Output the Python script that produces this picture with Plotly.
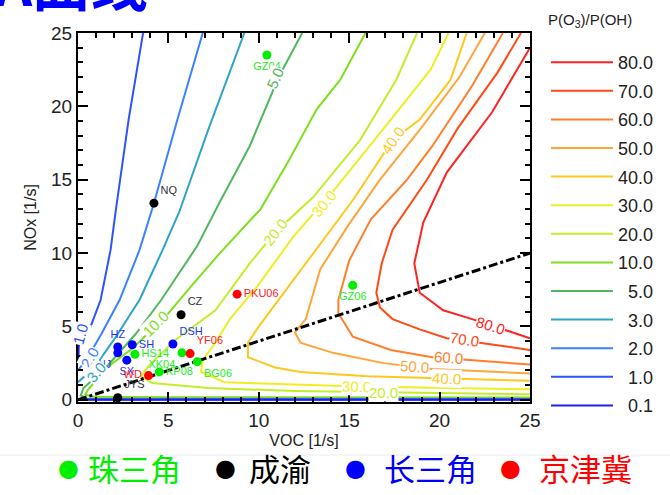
import plotly.graph_objects as go

# ---------------- data ----------------
levels = ["80.0", "70.0", "60.0", "50.0", "40.0", "30.0", "20.0", "10.0", "5.0", "3.0", "2.0", "1.0", "0.1"]
level_colors = ["#ff2222", "#ff4a14", "#ff7f2a", "#ffa53a", "#ffc81e", "#eeee22", "#c4ee2a",
                "#7ee01c", "#52b85e", "#2ea2c8", "#3a82ff", "#2f52ff", "#2020ee"]

c80_x = [25.0, 22.9, 20.4, 19.1, 18.6, 18.9, 20.2, 21.8, 25.0]
c80_y = [24.0, 19.6, 15.5, 12.1, 9.3, 7.3, 6.1, 5.5, 4.2]
c70_x = [24.5, 23.2, 21.0, 19.3, 17.4, 16.8, 16.5, 16.7, 17.4, 18.9, 20.4, 25.0]
c70_y = [25.0, 22.3, 18.5, 15.0, 11.6, 9.3, 7.3, 6.3, 5.5, 4.8, 4.2, 3.4]
c60_x = [23.5, 21.8, 19.6, 18.2, 16.2, 15.0, 14.4, 14.4, 15.2, 17.3, 19.6, 25.0]
c60_y = [25.0, 21.4, 17.3, 15.0, 12.3, 9.5, 6.8, 5.9, 4.3, 3.4, 2.9, 2.4]
c50_x = [22.5, 21.1, 18.9, 16.7, 14.9, 13.4, 12.6, 12.0, 12.3, 14.1, 16.9, 19.6, 25.0]
c50_y = [25.0, 22.0, 18.4, 15.0, 11.8, 8.9, 5.5, 4.6, 3.9, 3.2, 2.5, 2.1, 1.8]
c40_x = [21.5, 20.6, 18.9, 17.4, 15.2, 12.7, 11.1, 10.0, 9.4, 9.4, 10.9, 12.3, 16.0, 20.4, 25.0]
c40_y = [25.0, 21.8, 19.1, 17.7, 13.6, 9.5, 6.8, 5.0, 3.9, 2.9, 2.2, 1.9, 1.6, 1.43, 1.3]
c30_x = [20.5, 19.5, 17.3, 14.3, 11.9, 9.9, 8.4, 7.6, 6.9, 6.8, 8.1, 12.6, 15.5, 25.0]
c30_y = [25.0, 22.5, 19.1, 14.5, 11.1, 7.7, 5.5, 3.9, 2.7, 1.9, 1.2, 1.0, 0.9, 0.72]
c20_x = [18.75, 17.6, 15.6, 13.0, 10.9, 9.5, 7.6, 5.4, 3.9, 3.5, 4.1, 7.2, 12.0, 17.0, 25.0]
c20_y = [25.0, 21.8, 17.7, 13.8, 11.4, 9.3, 6.1, 4.1, 2.3, 1.6, 1.15, 0.8, 0.6, 0.5, 0.38]
c10_x = [15.9, 14.5, 13.2, 11.7, 10.1, 7.85, 6.3, 4.8, 3.0, 1.66, 0.55, 0.4, 0.8, 5.0, 25.0]
c10_y = [25.0, 21.8, 19.8, 16.4, 13.0, 10.0, 7.8, 5.6, 3.5, 2.25, 0.68, 0.35, 0.2, 0.17, 0.15]
c5_x = [12.4, 11.1, 9.5, 7.85, 6.6, 4.6, 3.2, 1.4, 0.3, 0.15, 0.5, 25.0]
c5_y = [25.0, 22.0, 17.3, 13.5, 10.5, 6.8, 4.5, 2.0, 0.8, 0.3, 0.08, 0.07]
c3_x = [9.2, 7.2, 5.6, 4.6, 3.4, 2.1, 0.9, 0.0, None, 0.0, 25.0]
c3_y = [25.0, 18.4, 12.8, 10.0, 6.8, 4.3, 2.2, 1.2, None, 0.05, 0.05]
c2_x = [6.9, 5.5, 4.2, 3.4, 2.3, 1.3, 0.5, 0.0, None, 0.0, 25.0]
c2_y = [25.0, 19.1, 13.4, 10.2, 6.8, 4.5, 2.8, 2.0, None, 0.03, 0.03]
c1_x = [3.6, 2.8, 2.1, 1.8, 1.25, 0.7, 0.2, 0.0, None, 0.0, 25.0]
c1_y = [25.0, 19.1, 13.0, 10.2, 6.8, 5.0, 4.0, 3.6, None, 0.02, 0.02]
c01_x = [0.05, 0.02, None, 0.0, 25.0]
c01_y = [4.2, 2.6, None, 0.01, 0.01]

contour_x = [c80_x, c70_x, c60_x, c50_x, c40_x, c30_x, c20_x, c10_x, c5_x, c3_x, c2_x, c1_x, c01_x]
contour_y = [c80_y, c70_y, c60_y, c50_y, c40_y, c30_y, c20_y, c10_y, c5_y, c3_y, c2_y, c1_y, c01_y]

# inline contour labels: text, x, y, angle, level index
clab_text = ["80.0", "70.0", "60.0", "50.0", "40.0", "30.0", "20.0",
             "5.0", "10.0", "20.0", "30.0", "40.0", "1.0", "2.0", "3.0"]
clab_x = [22.8, 21.4, 20.5, 18.6, 20.4, 15.4, 16.9, 10.9, 4.3, 10.9, 13.6, 17.4, 0.15, 0.65, 1.0]
clab_y = [5.05, 4.1, 2.9, 2.25, 1.43, 0.92, 0.5, 21.9, 5.2, 11.4, 13.4, 17.7, 4.5, 2.9, 1.85]
clab_angle = [17, 9, 4, 4, 2, 2, 0, -66, -45, -52, -50, -55, -75, -60, -50]
clab_level = [0, 1, 2, 3, 4, 5, 6, 8, 7, 6, 5, 4, 11, 10, 9]

# sites
site_name = ["GZ04", "GZ06", "HS14", "XK04", "KP08", "BG06",
             "NQ", "CZ", "JYS",
             "HZ", "NJ", "SX", "SH", "DSH",
             "PKU06", "YF06", "WD"]
site_x = [10.45, 15.2, 3.15, 5.75, 4.5, 6.6,
          4.2, 5.7, 2.2,
          2.2, 2.2, 2.7, 3.0, 5.25,
          8.8, 6.2, 3.9]
site_y = [23.5, 7.8, 3.1, 3.2, 1.9, 2.6,
          13.4, 5.8, 0.14,
          3.6, 3.2, 2.7, 3.75, 3.8,
          7.2, 3.15, 1.65]
site_region = [0, 0, 0, 0, 0, 0, 1, 1, 1, 2, 2, 2, 2, 2, 3, 3, 3]
site_textpos = ["bottom center", "bottom center", "middle right", "bottom left", "middle right", "bottom right",
                "top right", "top right", "top right",
                "top center", "bottom left", "bottom center", "middle right", "top right",
                "middle right", "top right", "middle left"]

region_names = ["珠三角", "成渝", "长三角", "京津冀"]
region_colors = ["#00ee00", "#000000", "#0000ff", "#ff0000"]
region_text_colors = ["#22ee22", "#333333", "#2233ff", "#ff2222"]

# O3 production regime ridge line
ridge_x = [0.0, 25.0]
ridge_y = [0.0, 10.0]

# ---------------- figure ----------------
L, T, PW, PH = 78, 33, 452, 369


def px_x(p):
    return (p - L) / PW


def px_y(p):
    return (T + PH - p) / PH


fig = go.Figure()

for i, lev in enumerate(levels):
    fig.add_trace(go.Scatter(
        x=contour_x[i], y=contour_y[i], mode="lines",
        line=dict(color=level_colors[i], width=2),
        name="\u2007" * (4 - len(lev)) + lev,
        legendgroup=lev, connectgaps=False, hoverinfo="skip"))

fig.add_trace(go.Scatter(
    x=ridge_x, y=ridge_y, mode="lines",
    line=dict(color="black", width=3, dash="dashdot"),
    showlegend=False, hoverinfo="skip"))

for k, txt in enumerate(clab_text):
    fig.add_annotation(
        x=clab_x[k], y=clab_y[k], text=txt, showarrow=False,
        textangle=clab_angle[k], bgcolor="white", borderpad=0,
        font=dict(size=15, color=level_colors[clab_level[k]], family="Liberation Sans, Arial"))

fig.add_trace(go.Scatter(
    x=site_x, y=site_y, mode="markers+text",
    marker=dict(size=9, color=[region_colors[r] for r in site_region]),
    text=site_name, textposition=site_textpos,
    textfont=dict(size=11, color=[region_text_colors[r] for r in site_region],
                  family="Liberation Sans, Arial"),
    showlegend=False, hoverinfo="skip", cliponaxis=False))

axis_common = dict(
    range=[0, 25], dtick=5, showline=True, linecolor="black", linewidth=2, mirror="ticks",
    ticks="inside", ticklen=10, tickwidth=2, tickcolor="black", showgrid=False, zeroline=False,
    tickfont=dict(size=19, color="#222", family="Liberation Sans, Arial"),
    minor=dict(ticks="inside", dtick=1, ticklen=5, tickwidth=1.5, tickcolor="black"))

fig.update_xaxes(**axis_common)
fig.update_yaxes(**axis_common)
fig.update_yaxes(range=[-0.15, 25])
fig.update_xaxes(title=dict(text="VOC [1/s]", font=dict(size=16, color="#222"), standoff=5))
fig.update_yaxes(title=dict(text="NOx [1/s]", font=dict(size=16, color="#222"), standoff=10))

# bottom region legend (dot + name)
dot_px = [68, 225, 355, 510]
name_px = [86, 247, 382, 537]
for r, name in enumerate(region_names):
    fig.add_annotation(
        xref="paper", yref="paper", x=px_x(dot_px[r]), y=px_y(468), xanchor="center", yanchor="middle",
        text="●", showarrow=False,
        font=dict(size=24, color=region_colors[r], family="DejaVu Sans"))
    fig.add_annotation(
        xref="paper", yref="paper", x=px_x(name_px[r]), y=px_y(467), xanchor="left", yanchor="middle",
        text=name, showarrow=False,
        font=dict(size=31, color=region_colors[r], family="Noto Sans CJK SC"))

# faint separator line above bottom legend
fig.add_shape(type="line", xref="paper", yref="paper", x0=px_x(0), x1=px_x(670),
              y0=px_y(455), y1=px_y(455), line=dict(color="#ececec", width=1))

# cropped title at top-left
fig.add_annotation(
    xref="paper", yref="paper", x=px_x(150), y=px_y(25),
    xanchor="right", yanchor="bottom", text="<b>EKMA曲线</b>", showarrow=False,
    font=dict(size=58, color="#0000ff", family="Noto Sans CJK SC"))

fig.update_layout(
    width=670, height=495,
    margin=dict(l=L, r=670 - L - PW, t=T, b=495 - T - PH, autoexpand=False),
    plot_bgcolor="white", paper_bgcolor="white",
    font=dict(family="Liberation Sans, Arial", color="#222"),
    showlegend=True,
    legend=dict(
        x=px_x(546), xanchor="left", y=px_y(5), yanchor="top",
        title=dict(text="P(O<sub>3</sub>)/P(OH)<br> ", font=dict(size=15)),
        font=dict(size=18), tracegroupgap=2.2, itemwidth=62, maxheight=490,
        bgcolor="rgba(0,0,0,0)"),
)

fig.write_html("out.html")
